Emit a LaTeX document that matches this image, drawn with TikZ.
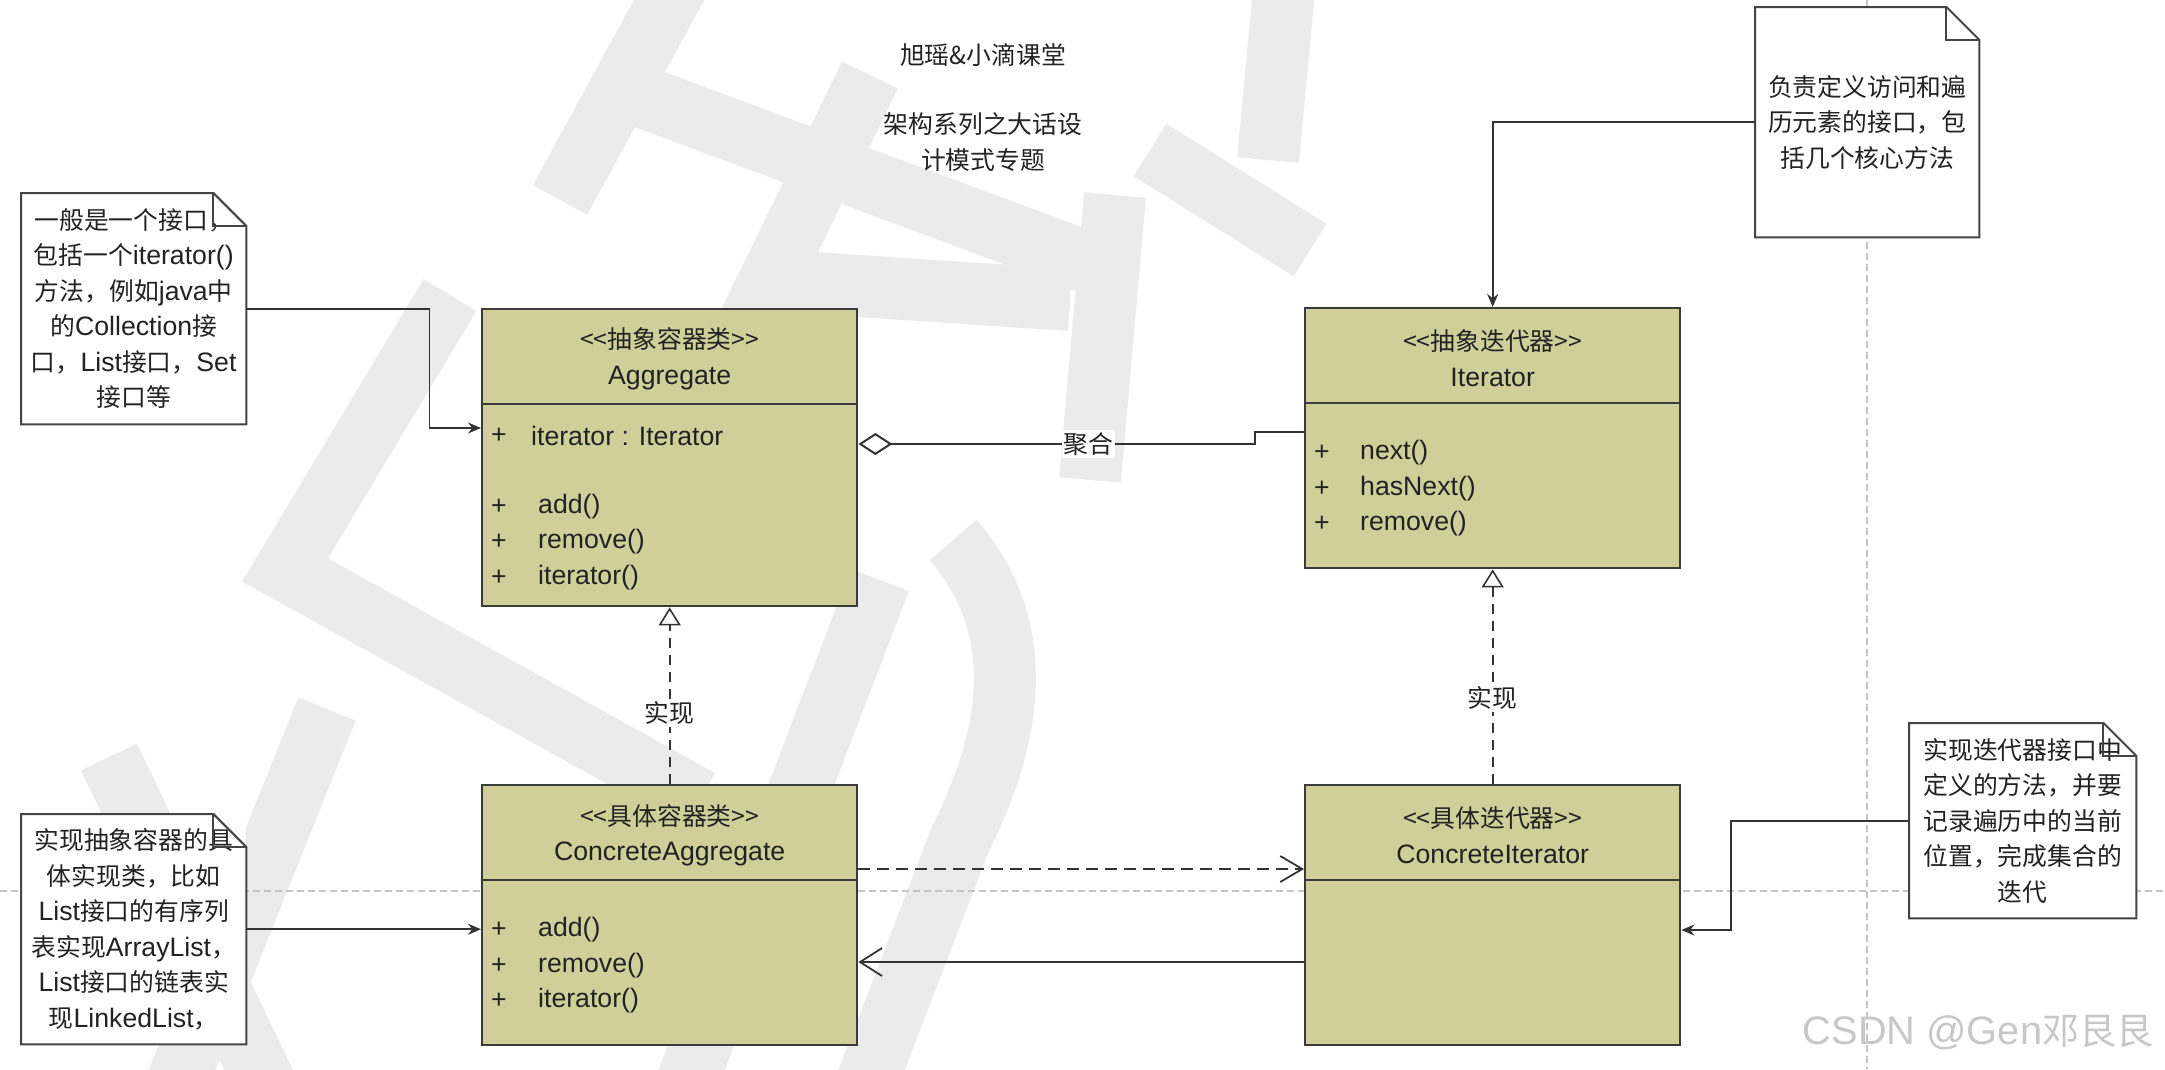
\documentclass[tikz,border=0pt]{standalone}
\usepackage{fontspec}
\setmainfont{Noto Sans CJK SC}
\newfontfamily\enfont[Scale=1.075]{Liberation Sans}
\usetikzlibrary{positioning, calc, arrows.meta}
\definecolor{classfill}{HTML}{D0CF99}
\definecolor{boxline}{HTML}{3A3A3A}
\definecolor{noteline}{HTML}{444444}
\definecolor{linkline}{HTML}{333333}
\definecolor{textdark}{HTML}{222222}
\definecolor{markgray}{HTML}{EBEBEB}
\definecolor{guidegray}{HTML}{C4C4C4}
\tikzset{
    class box/.style={draw=boxline, fill=classfill, line width=2.4pt, anchor=north west, minimum width=375pt, inner sep=0pt},
    class head/.style={align=center, inner sep=0pt, text=textdark, font=\fontsize{24.8}{35.5}\selectfont},
    member/.style={anchor=west, inner sep=0pt, text=textdark, font=\enfont\fontsize{24.8}{35.5}\selectfont},
    note box/.style={fill=white, anchor=north west, align=center, inner sep=0pt, text=textdark, font=\fontsize{24.8}{35.5}\selectfont},
    note line/.style={draw=noteline, line width=2pt, line join=miter},
    title text/.style={align=center, inner sep=0pt, text=textdark, font=\fontsize{24.8}{35.5}\selectfont},
    edge text/.style={fill=white, inner sep=2pt, text=textdark, font=\fontsize{24.8}{30}\selectfont},
    note link/.style={draw=linkline, line width=1.8pt, -{Stealth[length=13pt, width=11pt]}},
    realize/.style={draw=linkline, line width=1.6pt, dash pattern=on 10pt off 7pt, -{Triangle[open, length=18pt, width=22pt, line width=1.6pt]}},
    depend/.style={draw=linkline, line width=2.2pt, dash pattern=on 12pt off 7pt, -{Straight Barb[length=22pt, width=26pt, line width=1.8pt]}},
    assoc/.style={draw=linkline, line width=2pt, -{Straight Barb[length=22pt, width=28pt, line width=1.8pt]}},
    aggr/.style={draw=linkline, line width=2pt, {Diamond[open, length=34pt, width=22pt, line width=2pt]}-},
    guide/.style={draw=guidegray, line width=1.4pt, dash pattern=on 7pt off 4pt},
    watermark/.style={draw=markgray, line width=62pt, line join=miter},
    csdn mark/.style={inner sep=0pt, text=black!22, font=\fontsize{37}{40}\selectfont},
}
\newcommand{\drawnote}[1]{
    \draw[note line] (#1.north west) -- ([xshift=-33pt]#1.north east) -- ([yshift=-33pt]#1.north east) -- (#1.south east) -- (#1.south west) -- cycle;
    \draw[note line] ([xshift=-33pt]#1.north east) |- ([yshift=-33pt]#1.north east);
}
\newcommand{\drawdivider}[1]{
    \draw[boxline, line width=2.4pt] ([yshift=-96pt]#1.north west) -- ([yshift=-96pt]#1.north east);
}

\begin{document}
\begin{tikzpicture}[x=1pt, y=-1pt]
    \useasboundingbox (0,0) rectangle (2165,1069);
    % watermark and page guides
    \begin{scope}
        \clip (0,0) rectangle (2165,1069);
        \draw[watermark] (680,-20) -- (560,200);
        \draw[watermark] (640,96) -- (1103,268);
        \draw[watermark] (870,75) -- (770,280) -- (1070,300);
        \draw[watermark] (1115,195) -- (1090,480);
        \draw[watermark] (1150,150) -- (1310,250);
        \draw[watermark] (1285,-20) -- (1268,160);
        \draw[watermark] (450,295) -- (285,570) -- (700,800);
        \draw[watermark] (953,540) .. controls (1040,640) and (1000,760) .. (960,840) -- (860,1100);
        \draw[watermark] (880,580) -- (680,1100);
        \draw[watermark] (109,757) -- (273,1100);
        \draw[watermark] (327,709) -- (170,1100);
    \end{scope}
    \draw[guide] (0,891) -- (2165,891);
    \draw[guide] (1867,0) -- (1867,1069);

    % title
    \node[title text] (brand) at (983,55) {旭瑶\&小滴课堂};
    \node[title text] (topic) at (983,142) {架构系列之大话设\\计模式专题};

    % classes
    \node[class box, minimum height=297pt] (agg) at (481,308) {};
    \node[class box, minimum height=260pt] (iter) at (1304,307) {};
    \node[class box, minimum height=260pt] (ca) at (481,784) {};
    \node[class box, minimum height=260pt] (ci) at (1304,784) {};
    \drawdivider{agg}
    \drawdivider{iter}
    \drawdivider{ca}
    \drawdivider{ci}
    \node[class head] (agghead) at ($(agg.north)+(0,51)$) {<{}<抽象容器类>{}>\\{\enfont Aggregate}};
    \node[class head] (iterhead) at ($(iter.north)+(0,51)$) {<{}<抽象迭代器>{}>\\{\enfont Iterator}};
    \node[class head] (cahead) at ($(ca.north)+(0,51)$) {<{}<具体容器类>{}>\\{\enfont ConcreteAggregate}};
    \node[class head] (cihead) at ($(ci.north)+(0,51)$) {<{}<具体迭代器>{}>\\{\enfont ConcreteIterator}};

    % members
    \node[member] (aggplus) at ($(agg.north west)+(10,128)$) {+};
    \node[member] (aggattr) at ($(agg.north west)+(50,128)$) {iterator : Iterator};
    \foreach \member [count=\i] in {add(), remove(), iterator()} {
        \node[member] at ($(agg.north west)+(10,{163+35.5*\i})$) {+};
        \node[member] at ($(agg.north west)+(57,{163+35.5*\i})$) {\member};
        \node[member] at ($(ca.north west)+(10,{110.5+35.5*\i})$) {+};
        \node[member] at ($(ca.north west)+(57,{110.5+35.5*\i})$) {\member};
    }
    \foreach \member [count=\i] in {next(), hasNext(), remove()} {
        \node[member] at ($(iter.north west)+(10,{110.5+35.5*\i})$) {+};
        \node[member] at ($(iter.north west)+(56,{110.5+35.5*\i})$) {\member};
    }

    % notes
    \node[note box, minimum width=225pt, minimum height=231pt] (n1) at (21,193) {一般是一个接口，\\包括一个{\enfont iterator()}\\方法，例如{\enfont java}中\\的{\enfont Collection}接\\口，{\enfont List}接口，{\enfont Set}\\接口等};
    \node[note box, minimum width=224pt, minimum height=230pt] (n2) at (1755,7) {负责定义访问和遍\\历元素的接口，包\\括几个核心方法};
    \node[note box, minimum width=225pt, minimum height=230pt] (n3) at (21,814) {实现抽象容器的具\\体实现类，比如\\{\enfont List}接口的有序列\\表实现{\enfont ArrayList}，\\{\enfont List}接口的链表实\\现{\enfont LinkedList}，};
    \node[note box, minimum width=227pt, minimum height=195pt] (n4) at (1909,723) {实现迭代器接口中\\定义的方法，并要\\记录遍历中的当前\\位置，完成集合的\\迭代};
    \drawnote{n1}
    \drawnote{n2}
    \drawnote{n3}
    \drawnote{n4}

    % relations
    \draw[aggr] ([yshift=-136pt]agg.north east) -- node[edge text, pos=0.58] {聚合} ++(397,0) |- ([yshift=-125pt]iter.north west);
    \draw[realize] (ca.north) -- node[edge text, pos=0.4] {实现} (agg.south);
    \draw[realize] (ci.north) -- node[edge text, pos=0.4] {实现} (iter.south);
    \draw[depend] ([yshift=-85pt]ca.north east) -- ([yshift=-85pt]ci.north west);
    \draw[assoc] ([yshift=-178pt]ci.north west) -- ([yshift=-178pt]ca.north east);

    % note links
    \draw[note link] (n1.east) -- ++(183,0) |- ([yshift=-120pt]agg.north west);
    \draw[note link] (n2.west) -| (iter.north);
    \draw[note link] (n3.east) -- (n3.east -| ca.west);
    \draw[note link] (n4.west) -- ++(-178,0) |- ([yshift=-146pt]ci.north east);

    \node[csdn mark] (csdn) at (1978,1033) {{\enfont CSDN @Gen}邓艮艮};
\end{tikzpicture}
\end{document}
